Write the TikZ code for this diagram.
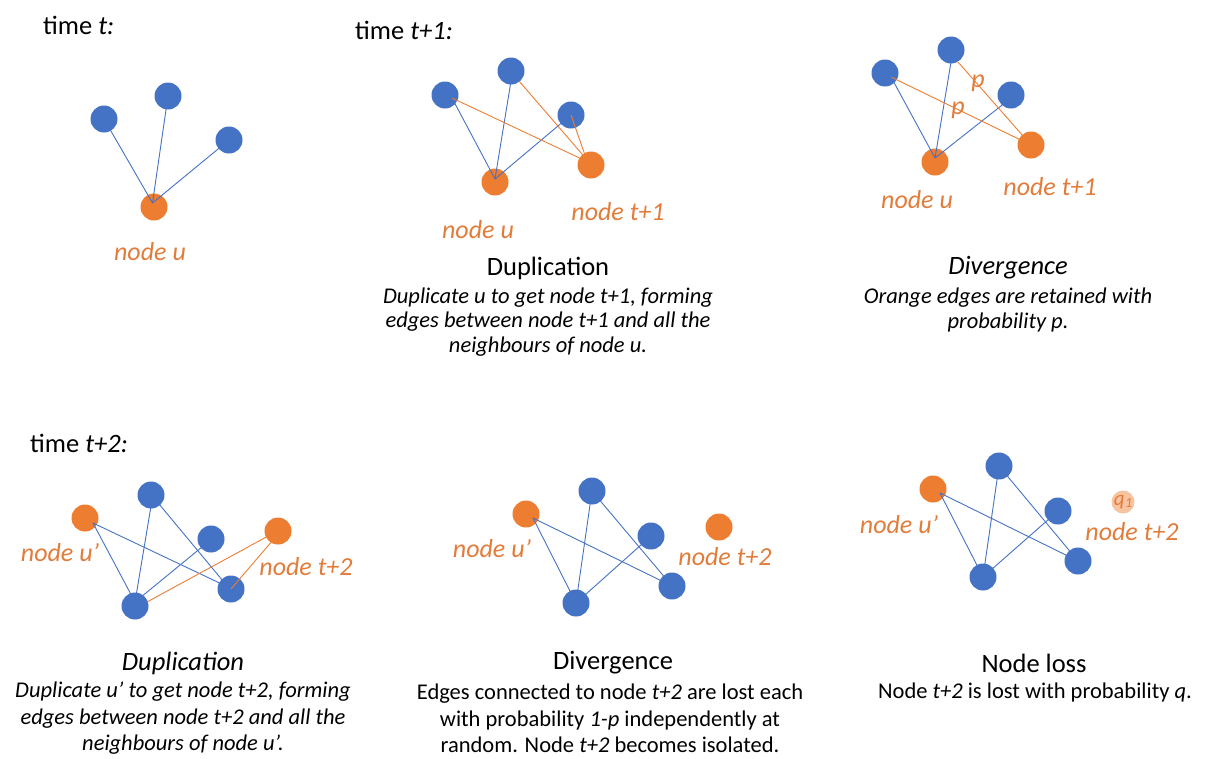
\documentclass[tikz,border=0pt]{standalone}
\usepackage{fontspec}
\setmainfont{Carlito}
\definecolor{ublue}{HTML}{4472C4}
\definecolor{uorange}{HTML}{ED7D31}
\definecolor{ulab}{HTML}{E27C3B}
\tikzset{
 bn/.style={circle,fill=ublue,minimum size=27pt,inner sep=0pt},
 on/.style={circle,fill=uorange,minimum size=27pt,inner sep=0pt},
 fn/.style={circle,fill=uorange,fill opacity=0.45,text opacity=1,minimum size=23pt,inner sep=0pt},
 be/.style={draw=ublue,line width=0.9pt},
 oe/.style={draw=uorange,line width=0.9pt},
 lab/.style={text=ulab,font=\fontsize{26}{30}\selectfont\itshape,inner sep=0pt},
 ttl/.style={font=\fontsize{26.5}{30}\selectfont,inner sep=0pt},
 ttli/.style={font=\fontsize{26.5}{30}\selectfont\itshape,inner sep=0pt},
 desc/.style={font=\fontsize{22.5}{26.5}\selectfont,align=center,inner sep=0pt},
 desci/.style={font=\fontsize{22.5}{26.5}\selectfont\itshape,align=center,inner sep=0pt},
 descit/.style={font=\fontsize{22.5}{24.5}\selectfont\itshape,align=center,inner sep=0pt},
 tm/.style={font=\fontsize{26.5}{30}\selectfont,inner sep=0pt,anchor=west},
}
\begin{document}
\begin{tikzpicture}[x=1pt,y=-1pt]
\useasboundingbox (0,0) rectangle (1207,758);
% ---------- time t
\node[tm] (tt) at (43,25) {time \textit{t:}};
\node[bn] (a1) at (104,119) {};
\node[bn] (a2) at (168,96) {};
\node[bn] (a3) at (229,140) {};
\node[on] (au) at (154,207) {};
\draw[be] (a1.center) -- ([shift={(-1.5,-4)}]au.center);
\draw[be] (a2.center) -- ([shift={(-1.5,-4)}]au.center);
\draw[be] (a3.center) -- ([shift={(-1.5,-4)}]au.center);
\node[lab] (aul) at (150,252) {node u};
% ---------- time t+1 duplication
\node[tm] (tt1) at (355,30) {time \textit{t+1:}};
\node[bn] (b1) at (445,95) {};
\node[bn] (b2) at (511,71) {};
\node[bn] (b3) at (571,115) {};
\node[on] (bu) at (495,182) {};
\node[on] (bt) at (591,165) {};
\draw[be] ([shift={(7,3)}]b1.center) -- ([shift={(0,-3)}]bu.center);
\draw[be] ([shift={(0,10)}]b2.center) -- ([shift={(0,-3)}]bu.center);
\draw[be] (b3.center) -- ([shift={(0,-3)}]bu.center);
\draw[oe] ([shift={(7,3)}]b1.center) -- ([shift={(-3,-3)}]bt.center);
\draw[oe] ([shift={(8,10)}]b2.center) -- ([shift={(-3,-4)}]bt.center);
\draw[oe] (b3.center) -- ([shift={(-5,-7)}]bt.center);
\node[lab] (bul) at (478,230) {node u};
\node[lab] (btl) at (618,212) {node t+1};
\node[ttl] (bttl) at (548,268) {Duplication};
\node[descit] (bd) at (548,322) {Duplicate u to get node t+1, forming\\edges between node t+1 and all the\\neighbours of node u.};
% ---------- divergence top
\node[bn] (c1) at (885,73) {};
\node[bn] (c2) at (951,50) {};
\node[bn] (c3) at (1011,95) {};
\node[on] (cu) at (935,162) {};
\node[on] (ct) at (1031,145) {};
\draw[be] ([shift={(6,4)}]c1.center) -- ([shift={(0,-4)}]cu.center);
\draw[be] ([shift={(0,12)}]c2.center) -- ([shift={(0,-4)}]cu.center);
\draw[be] ([shift={(-5,7)}]c3.center) -- ([shift={(0,-4)}]cu.center);
\draw[oe] ([shift={(6,4)}]c1.center) -- (ct.center);
\draw[oe] ([shift={(7,12)}]c2.center) -- (ct.center);
\node[lab] (cp1) at (978,83) {p};
\node[lab] (cp2) at (958,110) {p};
\node[lab] (cul) at (917,200) {node u};
\node[lab] (ctl) at (1050,187) {node t+1};
\node[ttli] (cttl) at (1008,268) {Divergence};
\node[descit] (cd) at (1008,310) {Orange edges are retained with\\probability p.};
% ---------- time t+2 duplication
\node[tm] (tt2) at (30,443) {time \textit{t+2:}};
\node[on] (du) at (85,518) {};
\node[bn] (d1) at (151,495) {};
\node[bn] (d2) at (211,539) {};
\node[on] (dt) at (278,531) {};
\node[bn] (d3) at (231,589) {};
\node[bn] (d4) at (135,606) {};
\draw[be] ([shift={(8,5)}]du.center) -- ([shift={(0,-4)}]d4.center);
\draw[be] ([shift={(8,5)}]du.center) -- ([shift={(-3,-2)}]d3.center);
\draw[be] ([shift={(0,11)}]d1.center) -- ([shift={(0,-4)}]d4.center);
\draw[be] ([shift={(8,9)}]d1.center) -- ([shift={(-3,-2)}]d3.center);
\draw[be] ([shift={(-9,8)}]d2.center) -- ([shift={(0,-4)}]d4.center);
\draw[oe] ([shift={(-8,4)}]dt.center) -- ([shift={(12,-4)}]d4.center);
\draw[oe] ([shift={(-5,9)}]dt.center) -- (d3.center);
\node[lab] (dul) at (60,553) {node u’};
\node[lab] (dtl) at (306,567) {node t+2};
\node[ttli] (dttl) at (183,663) {Duplication};
\node[desci] (dd) at (183,718.5) {Duplicate u’ to get node t+2, forming\\edges between node t+2 and all the\\neighbours of node u’.};
% ---------- divergence bottom
\node[on] (eu) at (526,514) {};
\node[bn] (e1) at (592,491) {};
\node[bn] (e2) at (651,536) {};
\node[bn] (e3) at (672,586) {};
\node[bn] (e4) at (576,603) {};
\node[on] (et) at (719,527) {};
\draw[be] ([shift={(7,4)}]eu.center) -- (e4.center);
\draw[be] ([shift={(7,4)}]eu.center) -- (e3.center);
\draw[be] (e1.center) -- (e4.center);
\draw[be] (e1.center) -- (e3.center);
\draw[be] (e2.center) -- (e4.center);
\node[lab] (eul) at (492,549) {node u’};
\node[lab] (etl) at (725,557) {node t+2};
\node[ttl] (ettl) at (613,663) {Divergence};
\node[desc] (ed) at (610,718.5) {Edges connected to node \textit{t+2} are lost each\\with probability \textit{1-p} independently at\\random. Node \textit{t+2} becomes isolated.};
% ---------- node loss
\node[on] (fu) at (933,489) {};
\node[bn] (f1) at (999,466) {};
\node[bn] (f2) at (1058,511) {};
\node[bn] (f3) at (1078,561) {};
\node[bn] (f4) at (983,577) {};
\node[fn] (fq) at (1123,502) {\textcolor{ulab}{\fontsize{21}{22}\selectfont\itshape q\kern0.5pt\raisebox{-2.5pt}{\fontsize{14}{15}\selectfont 1}}};
\draw[be] ([shift={(7,4)}]fu.center) -- (f4.center);
\draw[be] ([shift={(7,4)}]fu.center) -- (f3.center);
\draw[be] (f1.center) -- (f4.center);
\draw[be] (f1.center) -- (f3.center);
\draw[be] (f2.center) -- (f4.center);
\node[lab] (ful) at (899,525) {node u’};
\node[lab] (ftl) at (1132,532) {node t+2};
\node[ttl] (fttl) at (1034,663) {Node loss};
\node[desc] (fd) at (1035,692) {Node \textit{t+2} is lost with probability \textit{q}.};
\end{tikzpicture}
\end{document}
